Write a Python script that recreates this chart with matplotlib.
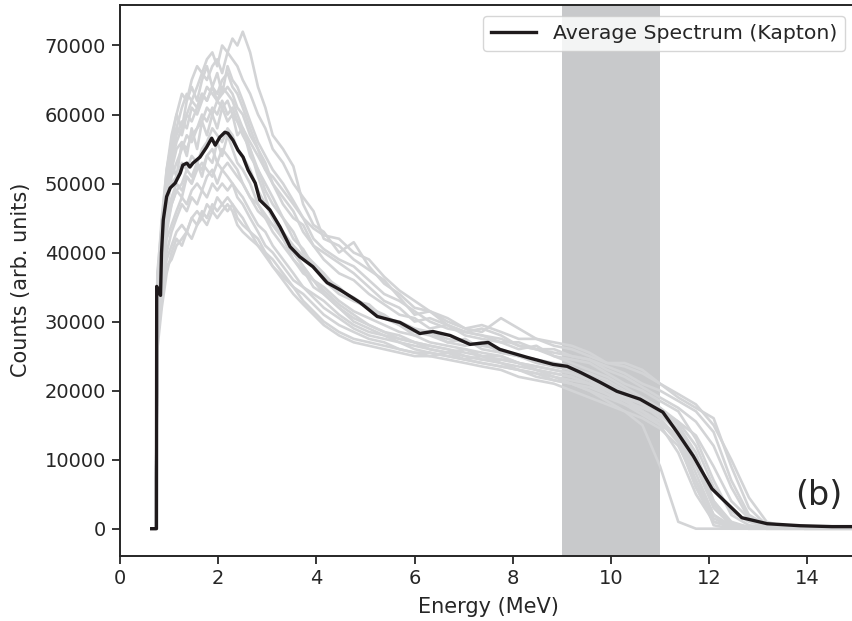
import numpy as np
import matplotlib
matplotlib.use('Agg')
import matplotlib.pyplot as plt

# energy grid shared by the individual shots (MeV)
e_shot = [0.64, 0.73, 0.76, 0.85, 0.95, 1.05, 1.15, 1.26, 1.36, 1.46, 1.57, 1.67, 1.77, 1.88, 1.98,
          2.08, 2.19, 2.29, 2.39, 2.50, 2.65, 2.81, 2.96, 3.11, 3.32, 3.53, 3.73, 3.94, 4.15, 4.46,
          4.76, 5.07, 5.38, 5.69, 6.00, 6.31, 6.67, 7.03, 7.37, 7.76, 8.12, 8.48, 8.84, 9.20, 9.56,
          9.92, 10.28, 10.64, 11.00, 11.37, 11.73, 12.09, 12.45, 12.81, 13.17, 13.53, 13.94, 14.46, 15.00]

# individual spectra, counts in thousands
shot01 = [0, 0, 37, 44, 52, 57, 60, 63, 62, 65, 67, 66, 68, 69, 67, 70, 69, 71, 70, 72, 69, 64, 61, 57,
          55, 52.5, 47, 44, 43, 40, 41.5, 38, 35.5, 34, 32, 31.5, 29.5, 28.5, 29, 28, 26.5, 26, 25, 24,
          23, 22, 20.5, 19, 17.5, 15, 11, 4, 0.8, 0.2, 0, 0, 0, 0, 0]
shot02 = [0, 0, 35, 43, 50, 55, 58, 61, 63, 62, 64, 66, 65, 67, 68, 66, 69, 68, 67, 65, 63, 60, 58, 55,
          53, 50, 48, 46, 42, 41, 39, 37.5, 36, 33.5, 31, 31.5, 30, 29, 28.5, 30.5, 29, 27.5, 27, 26.5,
          25.5, 24, 24, 23, 21, 19, 17.5, 16, 9, 3, 0.5, 0.2, 0, 0, 0]
shot03 = [0, 0, 33, 41, 48, 53, 56, 58, 60, 59, 61, 63, 62, 64, 63, 65, 66, 64, 63, 61, 58, 55, 52, 50,
          47, 45, 44, 41, 39, 37, 36, 34, 32.5, 31, 30.5, 29, 29.5, 28, 27.5, 27, 26, 26.5, 25, 24.5,
          24, 22.5, 21, 20, 18.5, 17, 13, 7, 2, 0.5, 0.2, 0, 0, 0, 0]
shot04 = [0, 0, 31, 39, 46, 51, 53, 55, 57, 56, 58, 59, 61, 60, 62, 61, 62, 60, 59, 57, 55, 52, 50, 48,
          45, 43, 40, 38.5, 37, 34.5, 33.5, 32, 31, 29.5, 28.5, 28, 27, 27.5, 26, 25.5, 25, 24, 23.5, 23,
          22, 21, 19.5, 18, 16.5, 14, 8, 2, 0.4, 0.1, 0, 0, 0, 0, 0]
shot05 = [0, 0, 34, 40, 47, 50, 51, 53, 52, 54, 53, 55, 56, 58, 57, 56, 58, 57, 55, 54, 52, 49, 47, 45,
          43, 41, 39.5, 38, 36, 34, 33, 32, 30.5, 30, 29, 28.5, 27.5, 27, 26.5, 26, 25, 24.5, 24, 23.5,
          22, 21, 19.5, 18.5, 17.5, 15.5, 12, 6, 2.5, 1, 0.3, 0, 0, 0, 0]
shot06 = [0, 0, 30, 37, 44, 47, 49, 50, 52, 51, 53, 52, 54, 55, 53, 55, 54, 53, 52, 50, 48, 46, 45, 43,
          41, 39, 37, 36, 35, 33, 31.5, 30.5, 29.5, 28.5, 28, 27, 26.5, 26, 25.5, 25, 24, 23.5, 23, 22.5,
          21.5, 20, 19, 17, 15, 11, 5, 1, 0.2, 0, 0, 0, 0, 0, 0]
shot07 = [0, 0, 29, 36, 42, 44, 46, 48, 47, 49, 50, 49, 51, 52, 50, 52, 51, 50, 49, 48, 46, 44, 43, 41,
          39, 37, 35, 34, 33, 31, 29.5, 28.5, 28, 27, 26.5, 26, 25.5, 25, 24.5, 24, 23, 22.5, 22, 21,
          20, 18.5, 17, 15, 9, 1, 0, 0, 0, 0, 0, 0, 0, 0, 0]
shot08 = [0, 0, 28, 34, 39, 41, 43, 44, 43, 45, 46, 45, 47, 46, 48, 47, 48, 47, 46, 45, 43, 42, 40, 39,
          37, 35, 34, 32.5, 31, 29.5, 28.5, 27.5, 27, 26, 25.5, 25, 25.5, 24.5, 24, 23.5, 23, 22, 21.5,
          21, 20.5, 19.5, 18.5, 17.5, 16.5, 14.5, 10, 4, 1, 0.2, 0, 0, 0, 0, 0]
shot09 = [0, 0, 27, 33, 38, 39, 41, 42, 43, 42, 44, 45, 44, 46, 45, 46, 47, 46, 44, 43, 42, 41, 39.5, 38,
          36, 34, 32.5, 31, 29.5, 28, 27, 26.5, 26, 25.5, 25, 25, 24.5, 24, 23.5, 23, 22, 21.5, 21, 20,
          19, 18, 17, 16, 14.5, 12, 7, 2, 0.3, 0, 0, 0, 0, 0, 0]
shot10 = [0, 0, 32, 40, 48, 52, 55, 56, 55, 57, 58, 60, 59, 61, 60, 62, 60, 61, 59, 58, 56, 54, 52, 51,
          49, 47, 45, 43.5, 42.5, 42, 40, 39, 36.5, 34.5, 33, 31.5, 30.5, 29, 29.5, 28.5, 27.5, 27.5,
          26.5, 26, 25, 24, 23.5, 22.5, 21, 19.5, 18, 15, 10, 4.5, 1, 0.3, 0, 0, 0]
shot11 = [0, 0, 36, 42, 49, 54, 57, 59, 58, 61, 60, 62, 64, 63, 62, 64, 63, 62, 60, 58, 55, 51, 48, 45,
          42, 40, 38, 36, 34.5, 32.5, 31, 29.5, 28.5, 28, 27, 26.5, 26, 25.5, 25, 25, 24, 23.5, 23, 22.5,
          21.5, 20.5, 19.5, 18.5, 17, 15.5, 13.5, 9, 4, 1.5, 0.5, 0.2, 0, 0, 0]
shot12 = [0, 0, 31, 38, 45, 48, 50, 49, 51, 50, 52, 53, 52, 51, 53, 52, 53, 52, 51, 50, 48, 47, 45, 44,
          42, 40, 38, 36, 34, 32, 30, 29, 28, 27.5, 27, 26, 25.5, 26, 25, 24.5, 24, 23, 22.5, 22, 21,
          19.5, 18, 17, 15.5, 13.5, 7, 0.5, 0, 0, 0, 0, 0, 0, 0]
shot13 = [0, 0, 30, 41, 47, 53, 51, 56, 54, 58, 55, 59, 57, 60, 58, 61, 59, 60, 57, 58, 54, 52, 49, 47,
          45, 42, 40.5, 38, 36.5, 35, 33, 32.5, 30.5, 29.5, 28, 28.5, 27, 26.5, 27, 25.5, 25, 24.5, 23.5,
          23, 22.5, 21.5, 20, 18.5, 17, 15, 10, 3.5, 0.8, 0.2, 0, 0, 0, 0, 0]
shot14 = [0, 0, 32, 38, 43, 47, 49, 48, 51, 50, 53, 51, 54, 53, 56, 54, 57, 55, 53, 52, 50, 47, 45.5, 44,
          42, 39, 37.5, 35, 34, 32, 30.5, 29.5, 28.5, 27.5, 27, 26.5, 26, 25, 24.5, 24.5, 24, 23, 22.5,
          22, 21, 20, 19, 18, 16, 13, 6, 1, 0.3, 0, 0, 0, 0, 0, 0]
shot15 = [0, 0, 34, 43, 51, 55, 58, 57, 60, 62, 61, 63, 62, 64, 62, 63, 64, 63, 61, 60, 57, 55, 53, 50,
          48, 46, 43, 41, 40, 38.5, 37, 35, 33, 32, 30, 30.5, 29.5, 28.5, 28, 27, 27, 26, 26, 25, 24.5,
          23.5, 22.5, 21, 20, 18.5, 17, 14, 7, 2, 0.5, 0.2, 0, 0, 0]
shot16 = [0, 0, 29, 35, 40, 43, 45, 47, 46, 48, 47, 49, 48, 50, 49, 50, 49, 50, 48, 47, 45, 43, 41, 40,
          38, 36, 35, 33.5, 32, 30.5, 29, 28, 27.5, 27, 26, 25.5, 25, 24.5, 25, 24, 23.5, 23, 22, 21.5,
          21, 20, 18.5, 17, 15.5, 12.5, 6, 1.5, 0.3, 0, 0, 0, 0, 0, 0]
shot17 = [0, 0, 36, 45, 52, 56, 60, 58, 62, 64, 62, 65, 67, 64, 66, 63, 67, 65, 64, 62, 59, 56, 54, 52,
          50, 47.5, 45, 42, 40.5, 39, 38, 36, 34, 33, 31.5, 30, 29, 28.5, 28, 27.5, 26.5, 26, 25.5, 25,
          24.5, 23, 22, 20.5, 19, 17.5, 15.5, 12, 6, 1.5, 0.4, 0.1, 0, 0, 0]
shot18 = [0, 0, 26, 32, 37, 40, 42, 41, 43, 45, 44, 46, 45, 47, 46, 47, 46, 47, 45, 44, 43, 41, 40, 38,
          36.5, 35, 33, 31.5, 30, 28.5, 27.5, 27, 26.5, 26, 25.5, 25.5, 25, 24.5, 24, 23.5, 23, 22.5,
          21.5, 21, 20, 19, 18, 16.5, 15, 13.5, 9, 3, 0.5, 0, 0, 0, 0, 0, 0]
shots = [shot01, shot02, shot03, shot04, shot05, shot06, shot07, shot08, shot09,
         shot10, shot11, shot12, shot13, shot14, shot15, shot16, shot17, shot18]

# average spectrum (Kapton)
avg_e = [0.645, 0.742, 0.747, 0.794, 0.825, 0.845, 0.881, 0.949, 1.021, 1.124, 1.227, 1.279, 1.361,
         1.423, 1.485, 1.629, 1.764, 1.867, 1.939, 2.032, 2.135, 2.197, 2.300, 2.403, 2.506, 2.609,
         2.754, 2.846, 3.053, 3.259, 3.465, 3.661, 3.929, 4.218, 4.476, 4.889, 5.239, 5.703, 6.106,
         6.374, 6.724, 7.127, 7.498, 7.735, 8.292, 8.818, 9.107, 9.375, 9.778, 10.118, 10.592, 11.056,
         11.345, 11.675, 12.057, 12.222, 12.665, 13.181, 13.851, 14.50, 15.00]
avg_c = [0, 0, 35100, 34200, 33800, 39970, 44730, 48100, 49350, 50070, 51520, 52670, 52960, 52390, 52960,
         53830, 55270, 56570, 55560, 56710, 57430, 57290, 56280, 54830, 53830, 51950, 50070, 47620, 46180,
         43720, 40840, 39390, 37950, 35640, 34630, 32760, 30740, 29870, 28280, 28570, 27990, 26700, 26980,
         25970, 24820, 23810, 23520, 22650, 21210, 19910, 18760, 16880, 14000, 10530, 5770, 4620, 1590,
         720, 430, 300, 300]

band = (9, 11)

plt.rcParams['font.family'] = ['DejaVu Sans']
plt.rcParams['text.color'] = '#262626'
plt.rcParams['axes.labelcolor'] = '#262626'
plt.rcParams['xtick.color'] = '#262626'
plt.rcParams['ytick.color'] = '#262626'

fig = plt.figure(figsize=(8.53, 6.21), dpi=100)
# right edge of the axes sits just outside the picture (cropped original)
ax = fig.add_axes([0.1407, 0.1053, 0.8634, 0.8867])

ax.axvspan(band[0], band[1], color='#c8c9cb', lw=0, zorder=0)
for s in shots:
    ax.plot(e_shot, np.array(s) * 1000, color='#d3d4d6', lw=1.9, zorder=1)
ax.plot(avg_e, avg_c, color='#1f1a1c', lw=2.4, zorder=3, label='Average Spectrum (Kapton)')

ax.set_xlim(0, 15)
ax.set_ylim(-3900, 75870)
ax.set_xticks(np.arange(0, 16, 2))
ax.set_yticks(np.arange(0, 70001, 10000))
ax.tick_params(labelsize=14, length=6, width=1.3, pad=4)
for sp in ax.spines.values():
    sp.set_linewidth(1.4)
    sp.set_color('#262626')

ax.set_xlabel('Energy (MeV)', fontsize=15, labelpad=6)
ax.set_ylabel('Counts (arb. units)', fontsize=15, labelpad=10)

ax.legend(loc='upper right', bbox_to_anchor=(0.9906, 0.9742), bbox_transform=fig.transFigure,
          borderaxespad=0, fontsize=14.7, handlelength=2.2, framealpha=0.8)
ax.text(14.72, 3430, '(b)', ha='right', va='baseline', fontsize=24)

fig.savefig('out.png', dpi=100)
